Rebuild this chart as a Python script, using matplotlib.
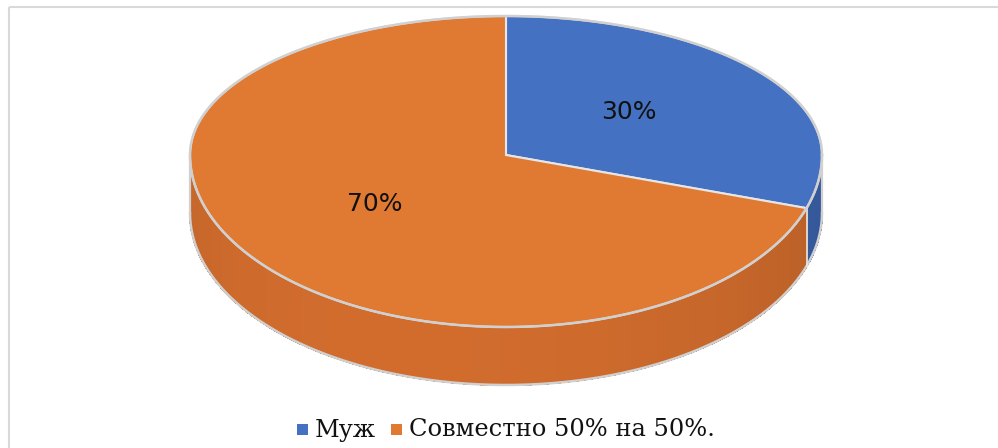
import numpy as np
import matplotlib
matplotlib.use("Agg")
import matplotlib.pyplot as plt
from matplotlib.patches import Polygon, Rectangle

categories = ["Муж", "Совместно 50% на 50%."]
values = [30, 70]
pct_labels = ["30%", "70%"]
top_colors = ["#4471C2", "#E07A32"]
side_colors = ["#3A62AA", "#CD6A2C"]

W, H = 998, 448
fig = plt.figure(figsize=(W / 100, H / 100), dpi=100)
ax = fig.add_axes([0, 0, 1, 1])
ax.set_xlim(0, W)
ax.set_ylim(H, 0)
ax.axis("off")

# chart frame
ax.add_patch(Rectangle((9.5, 7.5), 1000, 500, fill=False, ec="#D9D9D9", lw=1.5, zorder=0))

cx, cy = 506, 155
a, b_back, b_front = 316, 139, 172
depth = 58


def pt(theta, dy=0.0):
    s = np.sin(theta)
    b = np.where(s > 0, b_back, b_front)
    return cx + a * np.cos(theta), cy - b * s + dy


total = float(sum(values))
start = np.pi / 2
bounds = []
for v in values:
    end = start - 2 * np.pi * v / total
    bounds.append((start, end))
    start = end

# sides (front half only: theta in [-pi, 0])
for (t0, t1), col in zip(bounds, side_colors):
    lo, hi = min(t0, t1), max(t0, t1)
    for shift in (0, -2 * np.pi, 2 * np.pi):
        s0, s1 = max(lo + shift, -np.pi), min(hi + shift, 0)
        if s1 > s0:
            n = max(int((s1 - s0) / 0.01), 2)
            ts = np.linspace(s0, s1, n)
            base = np.array(matplotlib.colors.to_rgb(col))
            for i in range(n - 1):
                tm = 0.5 * (ts[i] + ts[i + 1])
                f = 0.92 + 0.1 * np.cos(tm + np.pi / 2 + 0.35)
                c = np.clip(base * f, 0, 1)
                xs0, ys0 = pt(ts[i])
                xs1, ys1 = pt(ts[i + 1])
                poly = [(xs0, ys0), (xs1, ys1), (xs1, ys1 + depth), (xs0, ys0 + depth)]
                ax.add_patch(Polygon(poly, closed=True, fc=c, ec=c, lw=0.8,
                                     antialiased=False, zorder=1))

# side outlines
tt = np.linspace(-np.pi, 0, 400)
xb, yb = pt(tt, depth)
ax.plot(xb, yb, color="#D0D0D0", lw=1.8, zorder=2)
for t in (-np.pi, 0.0):
    x0, y0 = pt(np.array(t))
    ax.plot([x0, x0], [y0, y0 + depth], color="#D0D0D0", lw=1.6, zorder=2)
xe, ye = pt(np.array(bounds[0][1]))
ax.plot([xe, xe], [ye, ye + depth], color="#E8E8E8", lw=1.2, zorder=2)

# top wedges
for (t0, t1), col in zip(bounds, top_colors):
    ts = np.linspace(t0, t1, 400)
    xs, ys = pt(ts)
    poly = [(cx, cy)] + list(zip(xs, ys))
    ax.add_patch(Polygon(poly, closed=True, fc=col, ec="#E6E6E6", lw=1.5, zorder=3))

# top outline
tt = np.linspace(0, 2 * np.pi, 600)
xo, yo = pt(tt)
ax.plot(xo, yo, color="#D0D0D0", lw=1.8, zorder=4)

# percentage labels
label_pos = [(629, 112), (375, 204)]
for (x, y), s in zip(label_pos, pct_labels):
    ax.text(x, y, s, fontsize=18, ha="center", va="center", color="#111111",
            family="DejaVu Sans", zorder=5)

# legend
leg_y = 430
items_x = [297, 391]
for x, col, lab in zip(items_x, top_colors, categories):
    ax.add_patch(Rectangle((x, leg_y - 5.5), 11, 11, fc=col, ec="none", zorder=5))
    ax.text(x + 18, leg_y, lab, fontsize=17.4, ha="left", va="center",
            family="DejaVu Serif", color="#111111", zorder=5)

fig.savefig("out.png", dpi=100, facecolor="white")
